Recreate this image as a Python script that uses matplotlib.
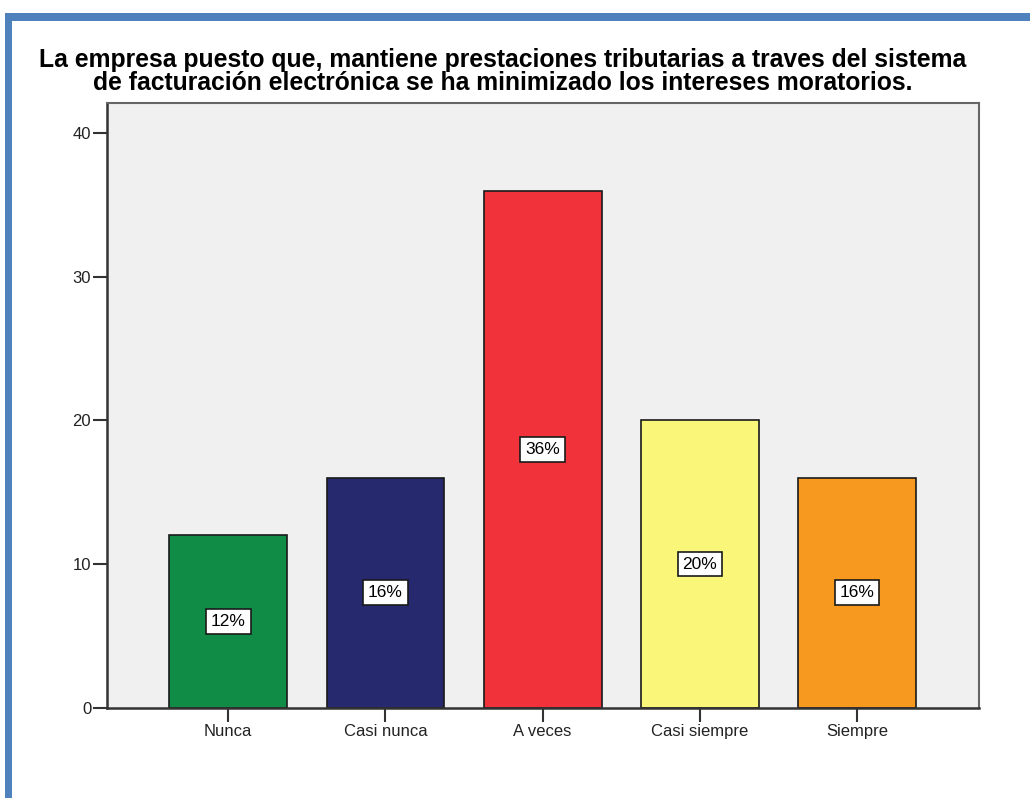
import matplotlib
matplotlib.use('Agg')
import matplotlib.pyplot as plt
from matplotlib.patches import Rectangle

# Datos de la pregunta (porcentaje de respuestas)
categorias = ['Nunca', 'Casi nunca', 'A veces', 'Casi siempre', 'Siempre']
porcentajes = [12, 16, 36, 20, 16]
colores = ['#118c46', '#27296f', '#f1323b', '#faf67a', '#f8991f']
titulo = ['La empresa puesto que, mantiene prestaciones tributarias a traves del sistema',
          'de facturación electrónica se ha minimizado los intereses moratorios.']
yticks = [0, 10, 20, 30, 40]

plt.rcParams['font.family'] = ['Liberation Sans', 'DejaVu Sans']

W, H = 1030, 798
fig = plt.figure(figsize=(W / 100, H / 100), dpi=100)

# marco azul del documento (arriba e izquierda)
azul = '#4f81bd'
fig.patches.append(Rectangle((5 / W, 1 - 21 / H), 1, 8 / H, transform=fig.transFigure,
                             facecolor=azul, edgecolor='none', zorder=0))
fig.patches.append(Rectangle((5 / W, 0), 7 / W, 1 - 13 / H, transform=fig.transFigure,
                             facecolor=azul, edgecolor='none', zorder=0))

ax = fig.add_axes([106.5 / W, 1 - 707.7 / H, (978.7 - 106.5) / W, (707.7 - 103) / H])
ax.set_facecolor('#f0f0f0')

x = range(len(categorias))
barras = ax.bar(x, porcentajes, width=0.75, color=colores, edgecolor='#1a1a1a',
                linewidth=1.2, zorder=2)

# etiqueta de porcentaje en el centro de cada barra
for xi, v in zip(x, porcentajes):
    ax.text(xi, v / 2, f'{v}%', ha='center', va='center', fontsize=12.5, zorder=3,
            bbox=dict(boxstyle='square,pad=0.28', facecolor='white',
                      edgecolor='#1a1a1a', linewidth=1.2))

ax.set_xlim(-0.775, 4.775)
ax.set_ylim(0, 42.1)
ax.set_yticks(yticks)
ax.set_xticks(list(x))
ax.set_xticklabels(categorias)
ax.tick_params(axis='both', labelsize=12, length=10, width=1.5, color='#333333',
               labelcolor='#222222')
ax.tick_params(axis='y', pad=1)
ax.tick_params(axis='x', pad=2)

for lado in ['left', 'bottom']:
    ax.spines[lado].set_color('#333333')
    ax.spines[lado].set_linewidth(1.8)
for lado in ['top', 'right']:
    ax.spines[lado].set_color('#666666')
    ax.spines[lado].set_linewidth(1.5)

# título en dos líneas, muy juntas
for linea, base in zip(titulo, [66.5, 89.5]):
    fig.text(503 / W, 1 - base / H, linea, ha='center', va='baseline',
             fontsize=17.8, fontweight='bold')

fig.savefig('out.png', dpi=100, facecolor='white')
